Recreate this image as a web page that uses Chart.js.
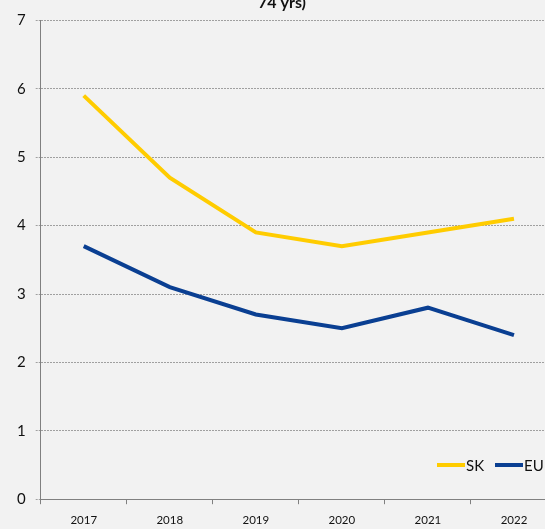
<!DOCTYPE html>
<html>
<head>
  <title>SK vs EU</title>
  <script src="https://cdn.jsdelivr.net/npm/chart.js"></script>
  <style>
    html, body { margin: 0; padding: 0; background: #f2f2f2; overflow: hidden; }
    #wrap { position: absolute; left: 0; top: -26px; width: 560px; height: 564px; }
  </style>
</head>
<body>
  <div id="wrap"><canvas id="grafico"></canvas></div>

  <script>
    var years = ['2017', '2018', '2019', '2020', '2021', '2022'];
    var sk = [5.9, 4.7, 3.9, 3.7, 3.9, 4.1];
    var eu = [3.7, 3.1, 2.7, 2.5, 2.8, 2.4];
    var titulo = ['Long-term unemployment (% of active population aged 15-', '74 yrs)'];

    // leyenda dentro del area del grafico, abajo a la derecha
    var leyenda = {
      id: 'leyenda',
      afterDatasetsDraw: function(chart) {
        var ctx = chart.ctx;
        var x = 437, y = 491;
        ctx.save();
        ctx.font = '15px Lato';
        ctx.textBaseline = 'middle';
        chart.data.datasets.forEach(function(ds) {
          ctx.strokeStyle = ds.borderColor;
          ctx.lineWidth = 4;
          ctx.beginPath();
          ctx.moveTo(x, y);
          ctx.lineTo(x + 28, y);
          ctx.stroke();
          ctx.fillStyle = '#111';
          ctx.fillText(ds.label, x + 29, y + 1);
          x += 58;
        });
        ctx.restore();
      }
    };

    var ctx = document.getElementById('grafico').getContext('2d');
    new Chart(ctx, {
      type: 'line',
      data: {
        labels: years,
        datasets: [{
          label: 'SK',
          data: sk,
          borderColor: '#ffcc00',
          borderWidth: 4,
          pointRadius: 0,
          tension: 0
        }, {
          label: 'EU',
          data: eu,
          borderColor: '#0a3f92',
          borderWidth: 4,
          pointRadius: 0,
          tension: 0
        }]
      },
      options: {
        responsive: true,
        maintainAspectRatio: false,
        animation: false,
        layout: { padding: { left: 7, right: 3, top: 0, bottom: 2 } },
        plugins: {
          legend: { display: false },
          tooltip: { enabled: false },
          title: {
            display: true,
            text: titulo,
            color: '#111',
            font: { family: 'Lato', size: 16, weight: 'bold' },
            padding: { top: 0, bottom: 8 }
          }
        },
        scales: {
          x: {
            offset: true,
            grid: {
              offset: true,
              drawOnChartArea: false,
              drawTicks: true,
              tickLength: 5,
              color: '#808080'
            },
            border: { display: true, color: '#808080', width: 1 },
            ticks: {
              color: '#111',
              font: { family: 'Lato', size: 11.5 },
              padding: 9,
              maxRotation: 0
            }
          },
          y: {
            min: 0,
            max: 7,
            grid: {
              color: '#a0a0a0',
              tickLength: 5,
              tickBorderDash: [2, 1]
            },
            border: { display: true, color: '#808080', width: 1, dash: [2, 1] },
            ticks: {
              stepSize: 1,
              color: '#111',
              font: { family: 'Lato', size: 15 },
              padding: 10
            }
          }
        }
      },
      plugins: [leyenda]
    });
  </script>
</body>
</html>
